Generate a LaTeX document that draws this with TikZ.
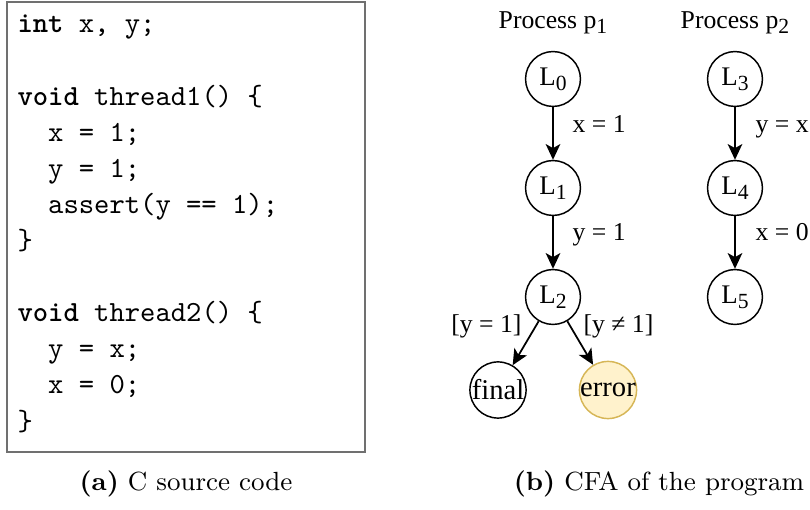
\documentclass[tikz,border=0pt]{standalone}
\usepackage{fontspec}
\newfontfamily\tnr{Liberation Serif}
\usetikzlibrary{arrows.meta}
\definecolor{errfill}{HTML}{FFF2CC}
\definecolor{errdraw}{HTML}{D6B656}
\definecolor{boxgray}{HTML}{707070}
\newcommand{\lsub}[1]{\raisebox{-0.4ex}{\fontsize{7.4}{8}\selectfont #1}}
\begin{document}
\begin{tikzpicture}[x=0.3425pt,y=-0.3425pt,
  codeline/.style={anchor=base west,inner sep=0,font=\ttfamily},
  state/.style={circle,draw,line width=0.5pt,minimum size=18.8pt,inner sep=0,font=\tnr\fontsize{9.2}{10}\selectfont},
  errstate/.style={state,draw=errdraw,fill=errfill},
  lbl/.style={inner sep=0,font=\tnr\fontsize{8.8}{10}\selectfont},
  edge/.style={line width=0.6pt,-{Stealth[length=5.4pt,width=5pt,inset=1.4pt]}},
  capt/.style={anchor=base,inner sep=0,font=\fontsize{9}{11}\selectfont}]
\useasboundingbox (0,0) rectangle (810,510);
% code box
\draw[boxgray,line width=0.4pt] (7,2) rectangle (365,452);
\node[codeline] (c1) at (17,33) {\textbf{int} x, y;};
\node[codeline] (c3) at (17,105.2) {\textbf{void} thread1() \{};
\node[codeline] (c4) at (17,141.3) {\ \ x = 1;};
\node[codeline] (c5) at (17,177.4) {\ \ y = 1;};
\node[codeline] (c6) at (17,213.5) {\ \ assert(y == 1);};
\node[codeline] (c7) at (17,249.6) {\}};
\node[codeline] (c9) at (17,321.8) {\textbf{void} thread2() \{};
\node[codeline] (c10) at (17,357.9) {\ \ y = x;};
\node[codeline] (c11) at (17,394) {\ \ x = 0;};
\node[codeline] (c12) at (17,430.1) {\}};
% CFA
\node[lbl,anchor=base] (p1) at (553,29) {Process p\lsub{1}};
\node[lbl,anchor=base] (p2) at (735,29) {Process p\lsub{2}};
\node[state] (L0) at (553,79) {L\lsub{0}};
\node[state] (L1) at (553,188) {L\lsub{1}};
\node[state] (L2) at (553,297) {L\lsub{2}};
\node[state] (L3) at (735,79) {L\lsub{3}};
\node[state] (L4) at (735,188) {L\lsub{4}};
\node[state] (L5) at (735,297) {L\lsub{5}};
\node[state,font=\tnr\fontsize{9.8}{11}\selectfont] (fin) at (498,390) {final};
\node[errstate,font=\tnr\fontsize{9.8}{11}\selectfont] (err) at (608,390) {error};
\draw[edge] (L0) -- (L1);
\draw[edge] (L1) -- (L2);
\draw[edge] (L3) -- (L4);
\draw[edge] (L4) -- (L5);
\draw[edge] (L2) -- (fin);
\draw[edge] (L2) -- (err);
\node[lbl,anchor=base west] (e1) at (572,133) {x = 1};
\node[lbl,anchor=base west] (e2) at (572,241) {y = 1};
\node[lbl,anchor=base west] (e3) at (755,133) {y = x};
\node[lbl,anchor=base west] (e4) at (755,241) {x = 0};
\node[lbl,anchor=base east] (e5) at (522,333) {[y = 1]};
\node[lbl,anchor=base west] (e6) at (583,333) {[y ≠ 1]};
% captions
\node[capt] (ca) at (186,491) {\textbf{(a)} C source code};
\node[capt] (cb) at (659,491) {\textbf{(b)} CFA of the program};
\end{tikzpicture}
\end{document}
